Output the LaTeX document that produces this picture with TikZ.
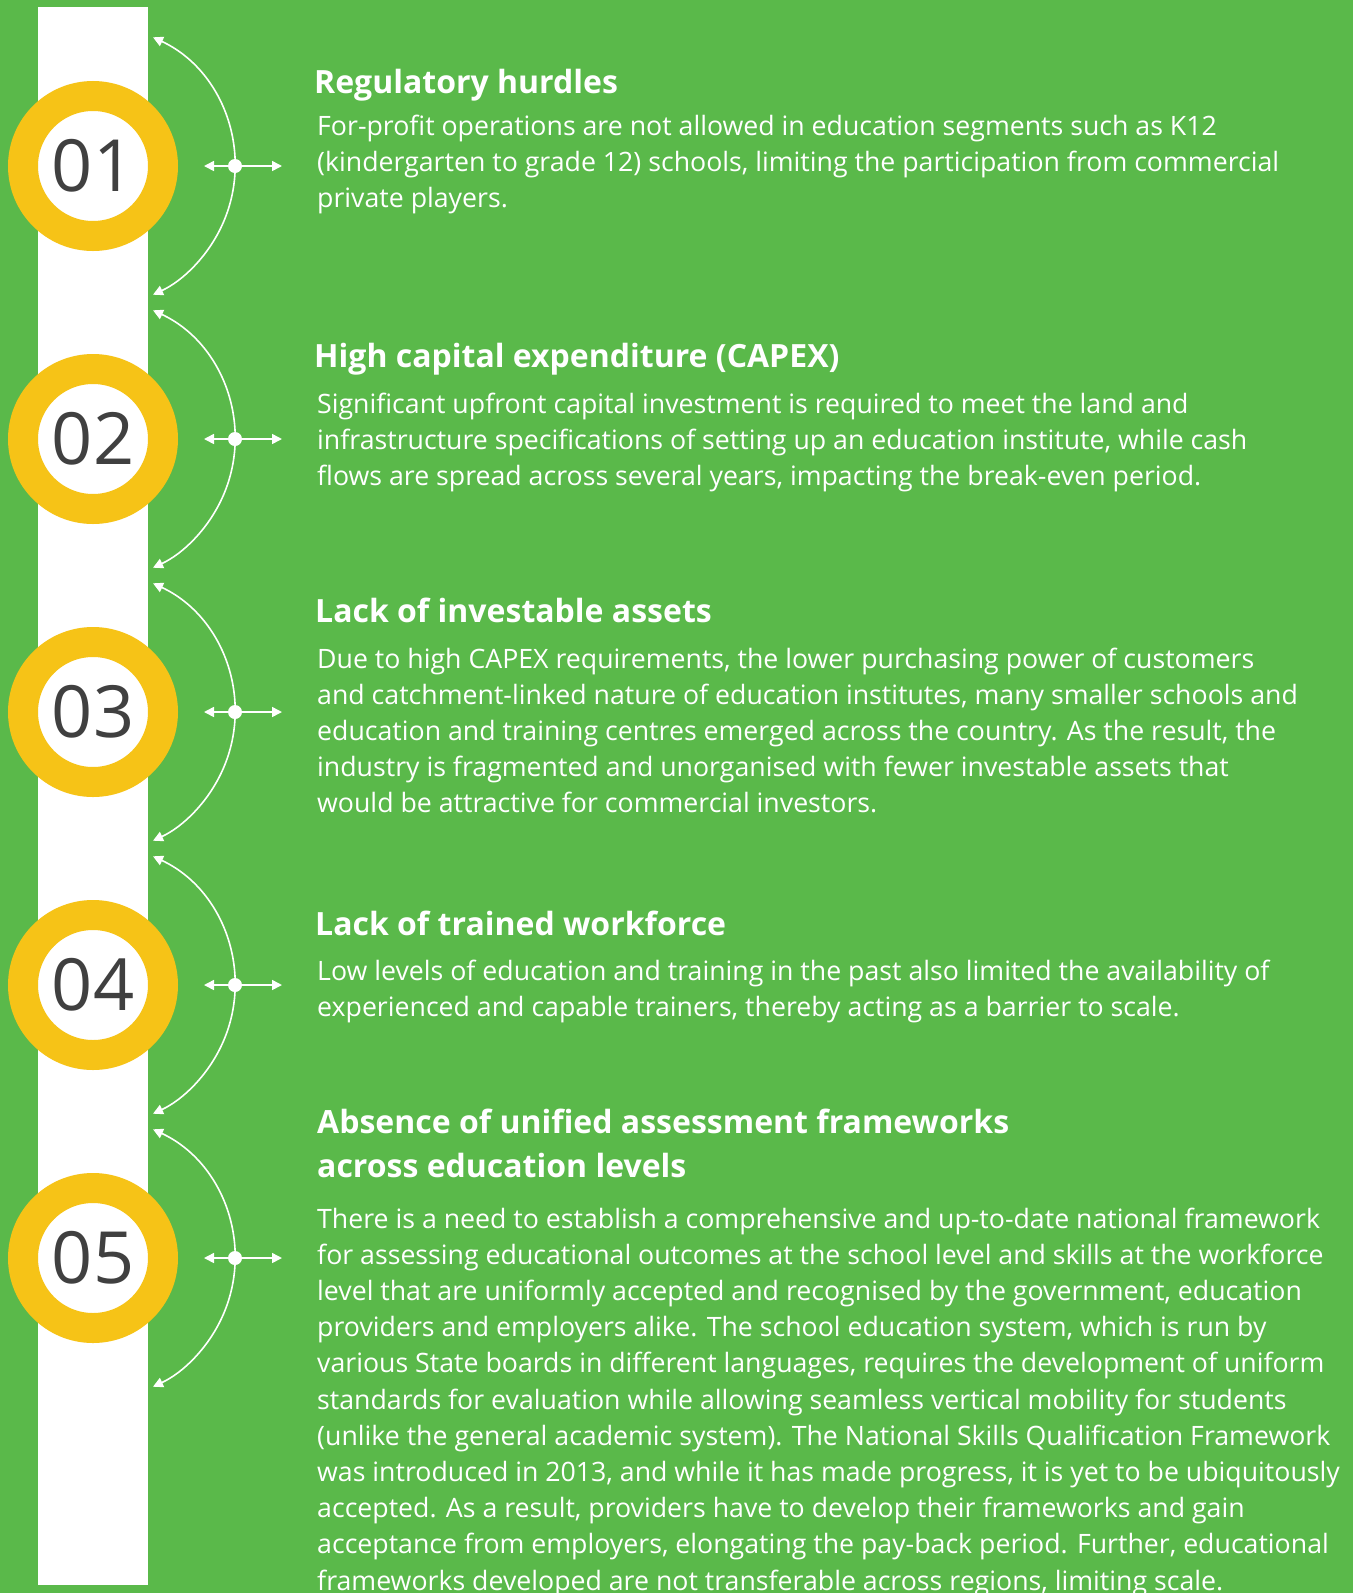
\documentclass[tikz,border=0pt]{standalone}
\usepackage{fontspec}
\setmainfont{Open Sans}
\usetikzlibrary{arrows.meta}
\definecolor{bggreen}{RGB}{90,185,74}
\definecolor{ringyellow}{RGB}{246,195,23}
\definecolor{numgray}{RGB}{64,64,64}
\newcommand{\txtlines}[1]{\begin{tabular}[t]{@{}l@{}}#1\end{tabular}}

\begin{document}
\begin{tikzpicture}[
        x=1pt, y=1pt,
        ring/.style={circle,draw=ringyellow,line width=30pt,fill=white,minimum size=140pt,inner sep=0pt,text=numgray,font=\fontsize{72}{72}\selectfont},
        hub/.style={circle,fill=white,minimum size=14pt,inner sep=0pt},
        spoke/.style={white,line width=1.6pt,-{Triangle[length=10pt,width=10pt]}},
        bow/.style={white,line width=1.6pt,{Triangle[length=10pt,width=10pt]}-{Triangle[length=10pt,width=10pt]}},
        ttl/.style={anchor=base west,inner sep=0pt,text=white,font=\fontsize{32}{44}\selectfont\bfseries},
        txt/.style={anchor=base west,inner sep=0pt,text=white,font=\fontsize{26.7}{36.2}\selectfont}
    ]
    \useasboundingbox (0,0) rectangle (1353,-1593);
    \clip (0,0) rectangle (1353,-1593);
    \fill[bggreen] (0,0) rectangle (1353,-1593);
    \fill[white] (38,-7) rectangle (148,-1585);

    \node[ring] (n1) at (93,-166) {01};
    \node[ring] (n2) at (93,-439) {02};
    \node[ring] (n3) at (93,-712) {03};
    \node[ring] (n4) at (93,-985) {04};
    \node[ring] (n5) at (93,-1258) {05};

    \node[hub] (h1) at (235,-166) {};
    \node[hub] (h2) at (235,-439) {};
    \node[hub] (h3) at (235,-712) {};
    \node[hub] (h4) at (235,-985) {};
    \node[hub] (h5) at (235,-1258) {};

    \coordinate (l1) at (204,-166);
    \coordinate (r1) at (282,-166);
    \coordinate (l2) at (204,-439);
    \coordinate (r2) at (282,-439);
    \coordinate (l3) at (204,-712);
    \coordinate (r3) at (282,-712);
    \coordinate (l4) at (204,-985);
    \coordinate (r4) at (282,-985);
    \coordinate (l5) at (204,-1258);
    \coordinate (r5) at (282,-1258);

    \draw[bow] ([shift={(65:142)}]n1.center) arc[start angle=65,end angle=-65,radius=142];
    \draw[bow] ([shift={(65:142)}]n2.center) arc[start angle=65,end angle=-65,radius=142];
    \draw[bow] ([shift={(65:142)}]n3.center) arc[start angle=65,end angle=-65,radius=142];
    \draw[bow] ([shift={(65:142)}]n4.center) arc[start angle=65,end angle=-65,radius=142];
    \draw[bow] ([shift={(65:142)}]n5.center) arc[start angle=65,end angle=-65,radius=142];

    \draw[spoke] (h1) -- (l1);
    \draw[spoke] (h1) -- (r1);
    \draw[spoke] (h2) -- (l2);
    \draw[spoke] (h2) -- (r2);
    \draw[spoke] (h3) -- (l3);
    \draw[spoke] (h3) -- (r3);
    \draw[spoke] (h4) -- (l4);
    \draw[spoke] (h4) -- (r4);
    \draw[spoke] (h5) -- (l5);
    \draw[spoke] (h5) -- (r5);

    \node[ttl] (t1) at (314,-93) {Regulatory hurdles};
    \node[txt] (b1) at (317,-135) {\txtlines{For-profit operations are not allowed in education segments such as K12\\
        (kindergarten to grade 12) schools, limiting the participation from commercial\\
        private players.}};

    \node[ttl] (t2) at (314,-367) {High capital expenditure (CAPEX)};
    \node[txt] (b2) at (317,-413) {\txtlines{Significant upfront capital investment is required to meet the land and\\
        infrastructure specifications of setting up an education institute, while cash\\
        flows are spread across several years, impacting the break-even period.}};

    \node[ttl] (t3) at (315,-622) {Lack of investable assets};
    \node[txt] (b3) at (317,-668) {\txtlines{Due to high CAPEX requirements, the lower purchasing power of customers\\
        and catchment-linked nature of education institutes, many smaller schools and\\
        education and training centres emerged across the country. As the result, the\\
        industry is fragmented and unorganised with fewer investable assets that\\
        would be attractive for commercial investors.}};

    \node[ttl] (t4) at (315,-935) {Lack of trained workforce};
    \node[txt] (b4) at (317,-980) {\txtlines{Low levels of education and training in the past also limited the availability of\\
        experienced and capable trainers, thereby acting as a barrier to scale.}};

    \node[ttl] (t5) at (317,-1133) {\txtlines{Absence of unified assessment frameworks\\
        across education levels}};
    \node[txt] (b5) at (317,-1228) {\txtlines{There is a need to establish a comprehensive and up-to-date national framework\\
        for assessing educational outcomes at the school level and skills at the workforce\\
        level that are uniformly accepted and recognised by the government, education\\
        providers and employers alike. The school education system, which is run by\\
        various State boards in different languages, requires the development of uniform\\
        standards for evaluation while allowing seamless vertical mobility for students\\
        (unlike the general academic system). The National Skills Qualification Framework\\
        was introduced in 2013, and while it has made progress, it is yet to be ubiquitously\\
        accepted. As a result, providers have to develop their frameworks and gain\\
        acceptance from employers, elongating the pay-back period. Further, educational\\
        frameworks developed are not transferable across regions, limiting scale.}};
\end{tikzpicture}
\end{document}
